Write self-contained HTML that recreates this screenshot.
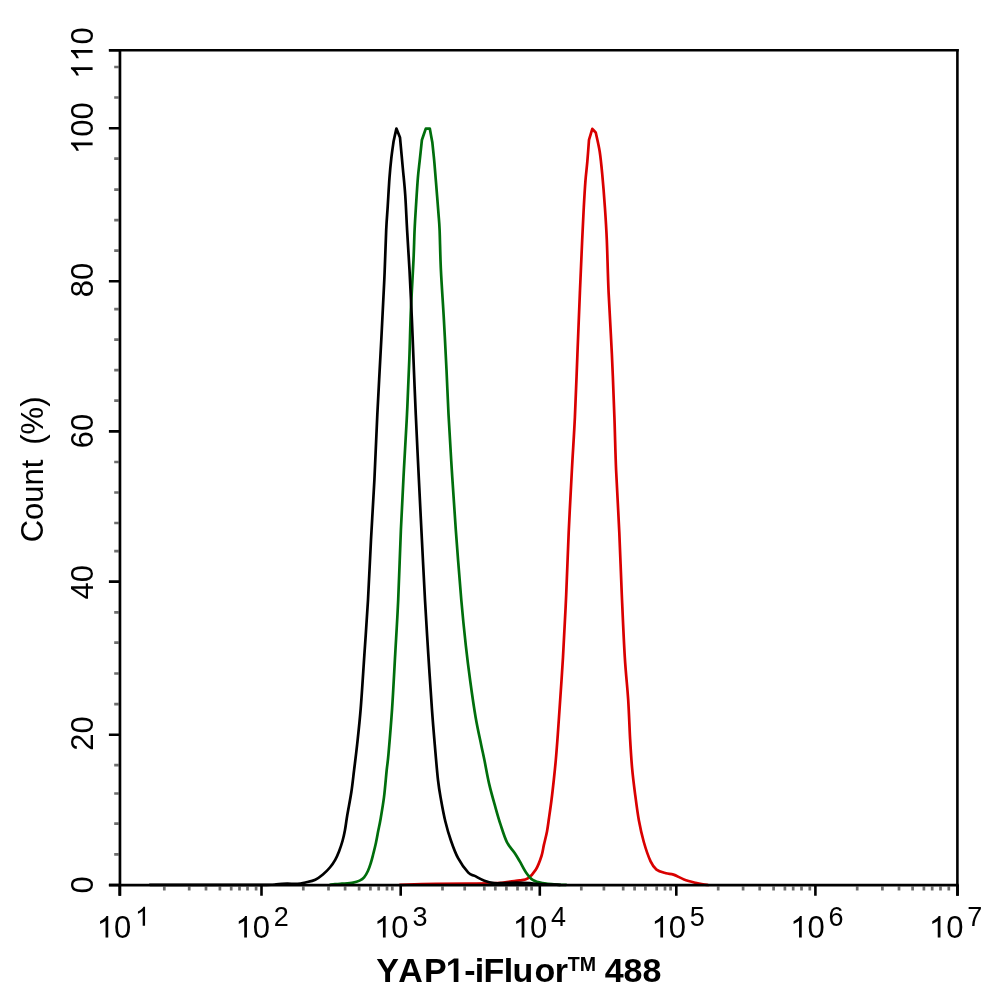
<!DOCTYPE html><html><head><meta charset="utf-8"><style>html,body{margin:0;padding:0;background:#fff;}svg{display:block;will-change:transform;}text{font-family:"Liberation Sans",sans-serif;fill:#000;}</style></head><body>
<svg width="994" height="1002" viewBox="0 0 994 1002">
<rect width="994" height="1002" fill="#fff"/>
<path d="M400.00,884.80 C406.02,884.65 424.72,884.10 436.10,883.90 C447.48,883.70 458.10,883.73 468.30,883.60 C478.50,883.47 490.33,883.45 497.30,883.10 C504.27,882.75 506.35,881.95 510.10,881.50 C513.85,881.05 516.85,880.93 519.80,880.40 C522.75,879.87 525.12,880.12 527.80,878.30 C530.48,876.48 533.62,873.22 535.90,869.50 C538.18,865.78 540.17,860.10 541.50,856.00 C542.83,851.90 542.98,849.00 543.90,844.90 C544.82,840.80 546.15,835.88 547.00,831.40 C547.85,826.92 548.25,823.23 549.00,818.00 C549.75,812.77 550.70,806.33 551.50,800.00 C552.30,793.67 553.08,786.67 553.80,780.00 C554.52,773.33 555.20,766.67 555.80,760.00 C556.40,753.33 556.90,746.67 557.40,740.00 C557.90,733.33 557.87,733.82 558.80,720.00 C559.73,706.18 561.77,677.98 563.00,657.10 C564.23,636.22 565.25,615.48 566.20,594.70 C567.15,573.92 567.75,553.18 568.70,532.40 C569.65,511.62 570.87,489.22 571.90,470.00 C572.93,450.78 573.98,436.32 574.90,417.10 C575.82,397.88 576.57,375.48 577.40,354.70 C578.23,333.92 579.10,311.57 579.90,292.40 C580.70,273.23 581.55,253.88 582.20,239.70 C582.85,225.52 583.27,217.03 583.80,207.30 C584.33,197.57 584.82,188.87 585.40,181.30 C585.98,173.73 586.70,168.82 587.30,161.90 C587.90,154.98 588.72,143.48 589.00,139.80 C589.55,137.97 591.75,130.63 592.30,128.80 C592.88,129.45 595.22,132.05 595.80,132.70 C596.45,135.83 598.62,144.47 599.70,151.50 C600.78,158.53 601.43,165.60 602.30,174.90 C603.17,184.20 604.15,196.50 604.90,207.30 C605.65,218.10 606.18,225.52 606.80,239.70 C607.42,253.88 607.75,273.23 608.60,292.40 C609.45,311.57 610.93,333.92 611.90,354.70 C612.87,375.48 613.70,397.88 614.40,417.10 C615.10,436.32 615.28,450.78 616.10,470.00 C616.92,489.22 618.35,511.62 619.30,532.40 C620.25,553.18 620.88,573.92 621.80,594.70 C622.72,615.48 623.73,639.55 624.80,657.10 C625.87,674.65 627.32,686.37 628.20,700.00 C629.08,713.63 629.45,727.55 630.10,738.90 C630.75,750.25 631.28,759.03 632.10,768.10 C632.92,777.17 633.87,784.55 635.00,793.30 C636.13,802.05 637.43,812.48 638.90,820.60 C640.37,828.72 641.85,835.20 643.80,842.00 C645.75,848.80 648.48,856.80 650.60,861.40 C652.72,866.00 653.93,867.63 656.50,869.60 C659.07,871.57 663.17,872.37 666.00,873.20 C668.83,874.03 670.50,873.57 673.50,874.60 C676.50,875.63 680.33,878.03 684.00,879.40 C687.67,880.77 692.33,881.97 695.50,882.80 C698.67,883.63 700.92,884.03 703.00,884.40 C705.08,884.77 707.17,884.90 708.00,885.00" stroke="#d90000" stroke-width="2.7" fill="none" stroke-linejoin="round" stroke-linecap="round"/>
<path d="M330.00,884.80 C330.83,884.70 333.00,884.38 335.00,884.20 C337.00,884.02 338.97,883.97 342.00,883.70 C345.03,883.43 350.27,883.12 353.20,882.60 C356.13,882.08 357.78,881.47 359.60,880.60 C361.42,879.73 362.72,879.00 364.10,877.40 C365.48,875.80 366.78,873.40 367.90,871.00 C369.02,868.60 369.95,865.67 370.80,863.00 C371.65,860.33 372.15,858.33 373.00,855.00 C373.85,851.67 375.02,847.08 375.90,843.00 C376.78,838.92 377.55,834.33 378.30,830.50 C379.05,826.67 379.45,825.55 380.40,820.00 C381.35,814.45 382.95,805.53 384.00,797.20 C385.05,788.87 385.95,777.22 386.70,770.00 C387.45,762.78 387.60,764.12 388.50,753.90 C389.40,743.68 390.98,725.30 392.10,708.70 C393.22,692.10 394.18,672.42 395.20,654.30 C396.22,636.18 397.25,620.75 398.20,600.00 C399.15,579.25 399.95,551.48 400.90,529.80 C401.85,508.12 402.88,489.20 403.90,469.90 C404.92,450.60 406.10,432.37 407.00,414.00 C407.90,395.63 408.65,377.07 409.30,359.70 C409.95,342.33 410.20,326.43 410.90,309.80 C411.60,293.17 412.88,273.20 413.50,259.90 C414.12,246.60 414.17,239.28 414.60,230.00 C415.03,220.72 415.55,212.93 416.10,204.20 C416.65,195.47 417.30,184.85 417.90,177.60 C418.50,170.35 419.03,166.97 419.70,160.70 C420.37,154.43 421.53,143.45 421.90,140.00 C422.55,138.10 425.15,130.50 425.80,128.60 C426.47,128.60 429.13,128.60 429.80,128.60 C430.22,130.87 431.88,139.93 432.30,142.20 C432.62,145.28 433.58,154.00 434.20,160.70 C434.82,167.40 435.30,173.75 436.00,182.40 C436.70,191.05 437.80,204.67 438.40,212.60 C439.00,220.53 439.18,220.45 439.60,230.00 C440.02,239.55 440.18,254.93 440.90,269.90 C441.62,284.87 442.97,303.17 443.90,319.80 C444.83,336.43 445.73,354.00 446.50,369.70 C447.27,385.40 447.62,397.30 448.50,414.00 C449.38,430.70 450.58,450.60 451.80,469.90 C453.02,489.20 454.22,508.12 455.80,529.80 C457.38,551.48 459.63,580.75 461.30,600.00 C462.97,619.25 464.30,631.72 465.80,645.30 C467.30,658.88 468.65,669.43 470.30,681.50 C471.95,693.57 473.88,707.13 475.70,717.70 C477.52,728.27 479.75,737.85 481.20,744.90 C482.65,751.95 483.07,753.47 484.40,760.00 C485.73,766.53 487.32,776.05 489.20,784.10 C491.08,792.15 493.82,801.58 495.70,808.30 C497.58,815.02 498.63,818.77 500.50,824.40 C502.37,830.03 504.48,837.27 506.90,842.10 C509.32,846.93 512.85,850.18 515.00,853.40 C517.15,856.62 517.93,858.18 519.80,861.40 C521.67,864.62 524.05,869.62 526.20,872.70 C528.35,875.78 530.02,878.17 532.70,879.90 C535.38,881.63 538.28,882.32 542.30,883.10 C546.32,883.88 552.85,884.32 556.80,884.60 C560.75,884.88 564.47,884.77 566.00,884.80" stroke="#006e0c" stroke-width="2.7" fill="none" stroke-linejoin="round" stroke-linecap="round"/>
<path d="M150.00,884.80 C168.33,884.82 238.97,884.97 260.00,884.90 C281.03,884.83 271.68,884.62 276.20,884.40 C280.72,884.18 284.08,883.68 287.10,883.60 C290.12,883.52 292.07,883.92 294.30,883.90 C296.53,883.88 298.63,883.73 300.50,883.50 C302.37,883.27 303.03,883.13 305.50,882.50 C307.97,881.87 312.40,881.03 315.30,879.70 C318.20,878.37 320.47,876.53 322.90,874.50 C325.33,872.47 327.85,869.95 329.90,867.50 C331.95,865.05 333.68,862.48 335.20,859.80 C336.72,857.12 337.78,854.53 339.00,851.40 C340.22,848.27 341.52,844.48 342.50,841.00 C343.48,837.52 344.10,834.83 344.90,830.50 C345.70,826.17 346.22,821.47 347.30,815.00 C348.38,808.53 350.27,799.20 351.40,791.70 C352.53,784.20 353.15,777.80 354.10,770.00 C355.05,762.20 356.00,755.12 357.10,744.90 C358.20,734.68 359.48,723.80 360.70,708.70 C361.92,693.60 363.18,672.42 364.40,654.30 C365.62,636.18 366.90,619.10 368.00,600.00 C369.10,580.90 369.93,559.72 371.00,539.70 C372.07,519.68 373.35,500.68 374.40,479.90 C375.45,459.12 376.15,438.35 377.30,415.00 C378.45,391.65 380.13,362.32 381.30,339.80 C382.47,317.28 383.48,298.20 384.30,279.90 C385.12,261.60 385.63,242.22 386.20,230.00 C386.77,217.78 387.15,215.33 387.70,206.60 C388.25,197.87 388.90,185.65 389.50,177.60 C390.10,169.55 390.62,164.37 391.30,158.30 C391.98,152.23 393.22,144.05 393.60,141.20 C394.07,139.10 395.93,130.70 396.40,128.60 C397.00,130.08 399.40,136.02 400.00,137.50 C400.47,142.58 401.93,158.50 402.80,168.00 C403.67,177.50 404.48,184.17 405.20,194.50 C405.92,204.83 406.38,217.43 407.10,230.00 C407.82,242.57 408.70,254.93 409.50,269.90 C410.30,284.87 411.17,303.17 411.90,319.80 C412.63,336.43 413.25,353.83 413.90,369.70 C414.55,385.57 414.97,396.63 415.80,415.00 C416.63,433.37 417.88,459.12 418.90,479.90 C419.92,500.68 420.88,519.68 421.90,539.70 C422.92,559.72 423.93,580.90 425.00,600.00 C426.07,619.10 427.15,636.18 428.30,654.30 C429.45,672.42 430.82,693.60 431.90,708.70 C432.98,723.80 433.78,733.02 434.80,744.90 C435.82,756.78 436.95,770.78 438.00,780.00 C439.05,789.22 439.88,793.33 441.10,800.20 C442.32,807.07 443.67,814.48 445.30,821.20 C446.93,827.92 448.77,834.33 450.90,840.50 C453.03,846.67 455.20,852.83 458.10,858.20 C461.00,863.57 465.53,869.75 468.30,872.70 C471.07,875.65 472.02,874.57 474.70,875.90 C477.38,877.23 481.18,879.50 484.40,880.70 C487.62,881.90 490.78,882.70 494.00,883.10 C497.22,883.50 499.93,883.17 503.70,883.10 C507.47,883.03 512.30,882.70 516.60,882.70 C520.90,882.70 525.75,882.88 529.50,883.10 C533.25,883.32 534.02,883.72 539.10,884.00 C544.18,884.28 556.52,884.67 560.00,884.80" stroke="#000" stroke-width="2.7" fill="none" stroke-linejoin="round" stroke-linecap="round"/>
<path d="M164.3,886.6V890.6M189.2,886.6V890.6M206.0,886.6V890.6M219.9,886.6V890.6M231.2,886.6V890.6M239.5,886.6V890.6M247.5,886.6V890.6M256.1,886.6V890.6M303.3,886.6V890.6M328.5,886.6V890.6M345.1,886.6V890.6M359.1,886.6V890.6M370.4,886.6V890.6M378.7,886.6V890.6M387.0,886.6V890.6M392.3,886.6V890.6M442.5,886.6V890.6M464.7,886.6V890.6M484.3,886.6V890.6M495.3,886.6V890.6M506.4,886.6V890.6M517.5,886.6V890.6M526.3,886.6V890.6M531.6,886.6V890.6M581.3,886.6V890.6M603.9,886.6V890.6M623.2,886.6V890.6M634.6,886.6V890.6M645.4,886.6V890.6M656.7,886.6V890.6M665.0,886.6V890.6M670.6,886.6V890.6M718.2,886.6V890.6M743.1,886.6V890.6M759.7,886.6V890.6M773.6,886.6V890.6M784.9,886.6V890.6M793.2,886.6V890.6M801.5,886.6V890.6M809.8,886.6V890.6M857.2,886.6V890.6M882.4,886.6V890.6M899.0,886.6V890.6M912.6,886.6V890.6M923.9,886.6V890.6M932.2,886.6V890.6M940.5,886.6V890.6M948.8,886.6V890.6M118.6,67.0H114.2M118.6,97.5H114.2M118.6,158.7H114.2M118.6,189.6H114.2M118.6,220.1H114.2M118.6,250.6H114.2M118.6,309.2H114.2M118.6,339.7H114.2M118.6,370.2H114.2M118.6,400.7H114.2M118.6,462.0H114.2M118.6,492.5H114.2M118.6,523.0H114.2M118.6,551.1H114.2M118.6,612.4H114.2M118.6,642.6H114.2M118.6,673.5H114.2M118.6,704.1H114.2M118.6,765.2H114.2M118.6,793.5H114.2M118.6,823.6H114.2M118.6,854.3H114.2" stroke="#6e6e6e" stroke-width="2.7" fill="none"/>
<path d="M119.70,885.0V895.8M261.50,885.0V895.8M400.70,885.0V895.8M539.80,885.0V895.8M676.30,885.0V895.8M815.40,885.0V895.8M957.60,885.0V895.8M119.7,50.30H108.9M119.7,128.20H108.9M119.7,281.20H108.9M119.7,431.40H108.9M119.7,581.60H108.9M119.7,734.70H108.9M119.7,885.00H108.9" stroke="#000" stroke-width="2.6" fill="none"/>
<path d="M108.9,50.2H958.7" stroke="#000" stroke-width="2.6" fill="none"/>
<path d="M957.4,48.9V895.8" stroke="#000" stroke-width="2.6" fill="none"/>
<path d="M119.95,48.9V895.8" stroke="#000" stroke-width="2.7" fill="none"/>
<path d="M108.9,885.15H958.7" stroke="#000" stroke-width="2.8" fill="none"/>
<path transform="translate(96.70,937.60) scale(0.015137,-0.014705)" d="M763 0H583V1147Q518 1085 412 1023Q307 961 223 930V1104Q374 1175 487 1276Q600 1377 647 1472H763V0Z"/>
<text x="113.94" y="937.6" font-size="31">0</text>
<path transform="translate(135.00,925.70) scale(0.013184,-0.012808)" d="M763 0H583V1147Q518 1085 412 1023Q307 961 223 930V1104Q374 1175 487 1276Q600 1377 647 1472H763V0Z"/>
<path transform="translate(235.40,937.60) scale(0.015137,-0.014705)" d="M763 0H583V1147Q518 1085 412 1023Q307 961 223 930V1104Q374 1175 487 1276Q600 1377 647 1472H763V0Z"/>
<text x="252.64" y="937.6" font-size="31">0</text>
<text x="273.70" y="925.7" font-size="27">2</text>
<path transform="translate(374.10,937.60) scale(0.015137,-0.014705)" d="M763 0H583V1147Q518 1085 412 1023Q307 961 223 930V1104Q374 1175 487 1276Q600 1377 647 1472H763V0Z"/>
<text x="391.34" y="937.6" font-size="31">0</text>
<text x="412.40" y="925.7" font-size="27">3</text>
<path transform="translate(512.80,937.60) scale(0.015137,-0.014705)" d="M763 0H583V1147Q518 1085 412 1023Q307 961 223 930V1104Q374 1175 487 1276Q600 1377 647 1472H763V0Z"/>
<text x="530.04" y="937.6" font-size="31">0</text>
<text x="551.10" y="925.7" font-size="27">4</text>
<path transform="translate(651.50,937.60) scale(0.015137,-0.014705)" d="M763 0H583V1147Q518 1085 412 1023Q307 961 223 930V1104Q374 1175 487 1276Q600 1377 647 1472H763V0Z"/>
<text x="668.74" y="937.6" font-size="31">0</text>
<text x="689.80" y="925.7" font-size="27">5</text>
<path transform="translate(790.20,937.60) scale(0.015137,-0.014705)" d="M763 0H583V1147Q518 1085 412 1023Q307 961 223 930V1104Q374 1175 487 1276Q600 1377 647 1472H763V0Z"/>
<text x="807.44" y="937.6" font-size="31">0</text>
<text x="828.50" y="925.7" font-size="27">6</text>
<path transform="translate(928.90,937.60) scale(0.015137,-0.014705)" d="M763 0H583V1147Q518 1085 412 1023Q307 961 223 930V1104Q374 1175 487 1276Q600 1377 647 1472H763V0Z"/>
<text x="946.14" y="937.6" font-size="31">0</text>
<text x="967.20" y="925.7" font-size="27">7</text>
<g transform="translate(92.6,53.0) rotate(-90)"><path transform="translate(-25.86,0.00) scale(0.015137,-0.014705)" d="M763 0H583V1147Q518 1085 412 1023Q307 961 223 930V1104Q374 1175 487 1276Q600 1377 647 1472H763V0Z"/><path transform="translate(-8.62,0.00) scale(0.015137,-0.014705)" d="M763 0H583V1147Q518 1085 412 1023Q307 961 223 930V1104Q374 1175 487 1276Q600 1377 647 1472H763V0Z"/><text x="8.62" y="0" font-size="31">0</text></g>
<g transform="translate(92.6,128.2) rotate(-90)"><path transform="translate(-25.86,0.00) scale(0.015137,-0.014705)" d="M763 0H583V1147Q518 1085 412 1023Q307 961 223 930V1104Q374 1175 487 1276Q600 1377 647 1472H763V0Z"/><text x="-8.62" y="0" font-size="31">0</text><text x="8.62" y="0" font-size="31">0</text></g>
<g transform="translate(92.6,280.0) rotate(-90)"><text x="-17.24" y="0" font-size="31">8</text><text x="0.00" y="0" font-size="31">0</text></g>
<g transform="translate(92.6,431.1) rotate(-90)"><text x="-17.24" y="0" font-size="31">6</text><text x="0.00" y="0" font-size="31">0</text></g>
<g transform="translate(92.6,582.3) rotate(-90)"><text x="-17.24" y="0" font-size="31">4</text><text x="0.00" y="0" font-size="31">0</text></g>
<g transform="translate(92.6,733.5) rotate(-90)"><text x="-17.24" y="0" font-size="31">2</text><text x="0.00" y="0" font-size="31">0</text></g>
<g transform="translate(92.6,884.9) rotate(-90)"><text x="-8.62" y="0" font-size="31">0</text></g>
<g transform="translate(43.0,542.3) rotate(-90)"><text x="0" y="0" font-size="31">Count</text><text x="97.6" y="0" font-size="31">(%)</text></g>
<text y="982" font-size="34" font-weight="bold" x="376.2 398.15 424.0">YAP</text>
<path transform="translate(445.80,982.00) scale(0.016602,-0.016602)" d="M759 0H478V1170L140 959V1180L493 1409H759V0Z"/>
<text y="982" font-size="34" font-weight="bold" x="464.2 474.8 483.5 503.8 512.5 534.5 554.7">-iFluor</text>
<text y="970.7" font-size="19.6" font-weight="bold" x="567.8">TM</text>
<text y="982" font-size="34" font-weight="bold" x="604.7 623.5 642.5">488</text>
</svg></body></html>
